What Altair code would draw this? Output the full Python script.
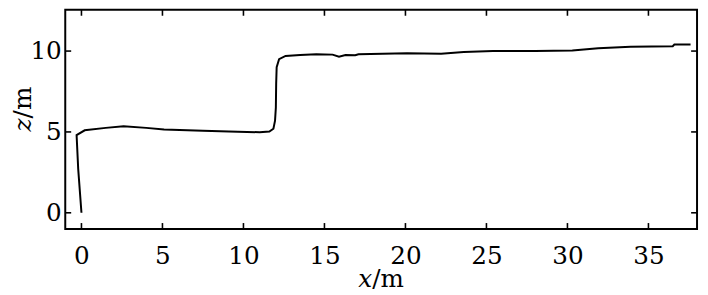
import altair as alt
import pandas as pd

# trajectory (x in m, z in m)
xs = [0.0, -0.2, -0.3, 0.2, 1.5, 2.6, 4.0, 5.1, 7.5, 9.1, 11.0, 11.6, 11.85,
      11.95, 12.0, 12.02, 12.05, 12.2, 12.6, 13.5, 14.5, 15.5, 15.9, 16.3, 16.9, 17.1,
      20.1, 22.2, 23.6, 25.4, 28.0, 30.3, 31.9, 33.9, 36.5, 36.6, 37.6]
zs = [0.0, 2.7, 4.8, 5.1, 5.25, 5.35, 5.25, 5.15, 5.07, 5.03, 4.98, 5.02, 5.2,
      5.7, 6.5, 8.0, 9.0, 9.5, 9.7, 9.75, 9.8, 9.78, 9.65, 9.76, 9.74, 9.8,
      9.86, 9.84, 9.94, 10.0, 10.0, 10.04, 10.18, 10.26, 10.3, 10.4, 10.41]

x_ticks = [0, 5, 10, 15, 20, 25, 30, 35]
z_ticks = [0, 5, 10]

W, H = 640, 222
FONT = "DejaVu Serif"
FS = 25

df = pd.DataFrame({"x": xs, "z": zs, "i": list(range(len(xs)))})
dxt = pd.DataFrame({"v": x_ticks})
dzt = pd.DataFrame({"v": z_ticks})

xscale = alt.Scale(domain=[-1, 38], nice=False, zero=False)
zscale = alt.Scale(domain=[-1, 12.55], nice=False, zero=False)

xaxis = alt.Axis(values=x_ticks, title=None, grid=False, domain=False, ticks=False,
                 tickSize=0, labelPadding=15, labelFont=FONT, labelFontSize=FS,
                 labelColor="black", labelOverlap=False, labelFlush=False)
zaxis = alt.Axis(values=z_ticks, title=None, grid=False, domain=False, ticks=False,
                 tickSize=0, labelPadding=4, labelFont=FONT, labelFontSize=FS,
                 labelColor="black", labelOverlap=False, labelFlush=False)

line = alt.Chart(df).mark_line(color="black", strokeWidth=2).encode(
    x=alt.X("x:Q", scale=xscale, axis=xaxis),
    y=alt.Y("z:Q", scale=zscale, axis=zaxis),
    order="i:Q",
)

tick_style = dict(color="black", strokeWidth=1.6)
xt_bottom = alt.Chart(dxt).mark_rule(**tick_style).encode(
    x=alt.X("v:Q", scale=xscale, axis=xaxis), y=alt.value(H), y2=alt.value(H - 6))
xt_top = alt.Chart(dxt).mark_rule(**tick_style).encode(
    x=alt.X("v:Q", scale=xscale, axis=xaxis), y=alt.value(0), y2=alt.value(6))
zt_left = alt.Chart(dzt).mark_rule(**tick_style).encode(
    y=alt.Y("v:Q", scale=zscale, axis=zaxis), x=alt.value(0), x2=alt.value(6))
zt_right = alt.Chart(dzt).mark_rule(**tick_style).encode(
    y=alt.Y("v:Q", scale=zscale, axis=zaxis), x=alt.value(W - 6), x2=alt.value(W))

# axis titles: italic variable + upright unit
tx = pd.DataFrame({"t": ["x"]})
tm = pd.DataFrame({"t": ["/m"]})
tz = pd.DataFrame({"t": ["z"]})

xt1 = alt.Chart(tx).mark_text(font=FONT, fontSize=FS, fontStyle="italic", align="right",
                              baseline="alphabetic", color="black").encode(
    text="t:N", x=alt.value(311), y=alt.value(H + 59))
xt2 = alt.Chart(tm).mark_text(font=FONT, fontSize=FS, align="left",
                              baseline="alphabetic", color="black").encode(
    text="t:N", x=alt.value(311), y=alt.value(H + 59))
zt1 = alt.Chart(tz).mark_text(font=FONT, fontSize=FS, fontStyle="italic", align="right",
                              baseline="alphabetic", angle=270, color="black").encode(
    text="t:N", x=alt.value(-35), y=alt.value(110))
zt2 = alt.Chart(tm).mark_text(font=FONT, fontSize=FS, align="left",
                              baseline="alphabetic", angle=270, color="black").encode(
    text="t:N", x=alt.value(-35), y=alt.value(110))

chart = alt.layer(line, xt_bottom, xt_top, zt_left, zt_right, xt1, xt2, zt1, zt2).properties(
    width=W, height=H,
    autosize=alt.AutoSizeParams(type="none"),
    padding={"left": 58, "top": 0, "right": 3, "bottom": 62},
    background="white",
).configure_view(stroke="black", strokeWidth=2, strokeOpacity=1)

chart.save("out.html", embed_options={"renderer": "svg", "actions": False})
